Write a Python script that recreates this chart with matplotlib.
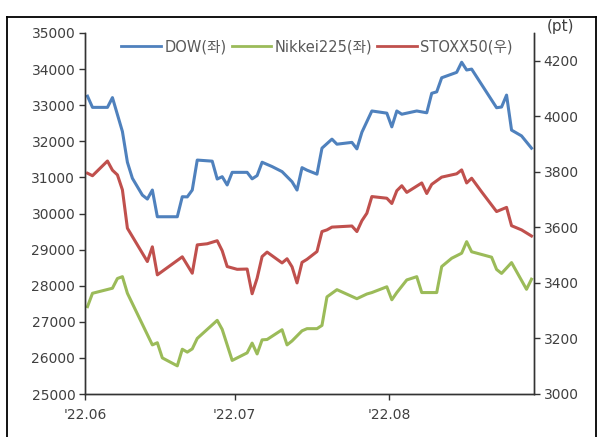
import matplotlib
matplotlib.use("Agg")
import matplotlib.pyplot as plt
import pandas as pd
from matplotlib.lines import Line2D

plt.rcParams['font.family'] = ['DejaVu Sans', 'Noto Sans CJK KR']

# values (vertices of each polyline)
dow_dates = ["06-01", "06-02", "06-05", "06-06", "06-08", "06-09", "06-10", "06-12", "06-13",
             "06-14", "06-15", "06-19", "06-20", "06-21", "06-22", "06-23", "06-26", "06-27",
             "06-28", "06-29", "06-30", "07-03", "07-04", "07-05", "07-06", "07-08", "07-10",
             "07-12", "07-13", "07-14", "07-15", "07-17", "07-18", "07-20", "07-21", "07-24",
             "07-25", "07-26", "07-28", "07-31", "08-01", "08-02", "08-03", "08-06", "08-08",
             "08-09", "08-10", "08-11", "08-14", "08-15", "08-16", "08-17", "08-22", "08-23",
             "08-24", "08-25", "08-27", "08-29"]
dow = [33250, 32940, 32940, 33210, 32270, 31420, 30975, 30510, 30400,
       30650, 29910, 29910, 30465, 30460, 30650, 31480, 31450, 30955,
       31020, 30790, 31140, 31140, 30960, 31050, 31420, 31300, 31160,
       30880, 30650, 31270, 31200, 31090, 31810, 32060, 31920, 31970,
       31790, 32250, 32840, 32780, 32400, 32840, 32750, 32840, 32790,
       33330, 33370, 33760, 33910, 34190, 33975, 34000, 32930, 32950,
       33280, 32310, 32150, 31810]

nikkei_dates = ["06-01", "06-02", "06-06", "06-07", "06-08", "06-09", "06-14", "06-15", "06-16",
                "06-19", "06-20", "06-21", "06-22", "06-23", "06-27", "06-28", "06-30", "07-03",
                "07-04", "07-05", "07-06", "07-07", "07-10", "07-11", "07-12", "07-14", "07-15",
                "07-17", "07-18", "07-19", "07-21", "07-25", "07-27", "07-28", "07-31", "08-01",
                "08-02", "08-04", "08-06", "08-07", "08-10", "08-11", "08-13", "08-15", "08-16",
                "08-17", "08-21", "08-22", "08-23", "08-25", "08-28", "08-29"]
nikkei = [27420, 27790, 27930, 28200, 28250, 27790, 26360, 26420, 26000,
          25780, 26240, 26160, 26250, 26540, 27040, 26790, 25930, 26140,
          26410, 26110, 26500, 26510, 26780, 26360, 26470, 26750, 26810,
          26810, 26900, 27690, 27890, 27640, 27770, 27810, 27970, 27610,
          27810, 28160, 28250, 27810, 27810, 28530, 28760, 28900, 29220,
          28940, 28790, 28450, 28340, 28640, 27900, 28180]

stoxx_dates = ["06-01", "06-02", "06-05", "06-06", "06-07", "06-08", "06-09", "06-10", "06-13",
               "06-14", "06-15", "06-20", "06-22", "06-23", "06-25", "06-27", "06-28", "06-29",
               "07-01", "07-03", "07-04", "07-05", "07-06", "07-07", "07-10", "07-11", "07-12",
               "07-13", "07-14", "07-15", "07-17", "07-18", "07-19", "07-20", "07-24", "07-25",
               "07-26", "07-27", "07-28", "07-31", "08-01", "08-02", "08-03", "08-04", "08-07",
               "08-08", "08-09", "08-11", "08-14", "08-15", "08-16", "08-17", "08-19", "08-22",
               "08-24", "08-25", "08-27", "08-29"]
stoxx = [3795, 3786, 3839, 3806, 3789, 3735, 3597, 3567, 3477,
         3530, 3429, 3494, 3435, 3537, 3541, 3552, 3516, 3459,
         3449, 3450, 3361, 3417, 3495, 3511, 3472, 3487, 3458,
         3400, 3474, 3485, 3513, 3585, 3591, 3601, 3605, 3585,
         3624, 3651, 3711, 3705, 3686, 3732, 3750, 3726, 3760,
         3722, 3755, 3781, 3793, 3807, 3760, 3777, 3728, 3657,
         3672, 3606, 3591, 3569]

tick_dates = ["06-01", "07-01", "08-01"]
tick_labels = ["'22.06", "'22.07", "'22.08"]
labels = ["DOW(좌)", "Nikkei225(좌)", "STOXX50(우)"]


def to_dt(ds, half=True):
    # points sit in the middle of each day (between tick marks)
    t = pd.to_datetime(["2022-" + d for d in ds])
    return t + pd.Timedelta(hours=12) if half else t


TXT = "#404040"
LEG = "#595959"
SP = "#333333"

fig = plt.figure(figsize=(6.01, 4.37), dpi=100)
ax = fig.add_axes([85/601, 43/437, 449/601, 361/437])
ax2 = ax.twinx()

l1, = ax.plot(to_dt(dow_dates), dow, color="#4F81BD", lw=2.2)
l2, = ax.plot(to_dt(nikkei_dates), nikkei, color="#9BBB59", lw=2.2)
l3, = ax2.plot(to_dt(stoxx_dates), stoxx, color="#C0504D", lw=2.2)

ax.set_xlim(pd.Timestamp("2022-06-01"), pd.Timestamp("2022-08-30"))
ax.set_ylim(25000, 35000)
ax.set_yticks(range(25000, 35001, 1000))
ax2.set_ylim(3000, 4300)
ax2.set_yticks(range(3000, 4201, 200))
ax.set_xticks(to_dt(tick_dates, half=False))
ax.set_xticklabels(tick_labels)

for a in (ax, ax2):
    a.spines["top"].set_visible(False)
    for s in ("left", "right", "bottom"):
        a.spines[s].set_color(SP)
        a.spines[s].set_linewidth(1.0)
    a.tick_params(direction="out", length=4, width=1, color=SP,
                  labelsize=10, labelcolor=TXT, pad=3)
ax.tick_params(axis="x", pad=6)

leg = ax.legend([l1, l2, l3], labels, loc="center", bbox_to_anchor=(0.517, 0.961),
                ncol=3, frameon=False, fontsize=10.5, handlelength=2.7,
                handletextpad=0.25, columnspacing=0.35, borderaxespad=0)
for t in leg.get_texts():
    t.set_color(LEG)
for h in leg.legend_handles:
    h.set_linewidth(2.0)

fig.text(560/601, 1 - 27/437, "(pt)", ha="center", va="center", fontsize=11, color=TXT)

# outer frame of the screenshot
fig.add_artist(Line2D([7/601, 7/601], [0, 1 - 17/437], transform=fig.transFigure, color="black", lw=1.3))
fig.add_artist(Line2D([7/601, 595.5/601], [1 - 17/437, 1 - 17/437], transform=fig.transFigure, color="black", lw=1.3))
fig.add_artist(Line2D([595.5/601, 595.5/601], [0, 1 - 17/437], transform=fig.transFigure, color="black", lw=1.3))

fig.savefig("out.png", dpi=100)
